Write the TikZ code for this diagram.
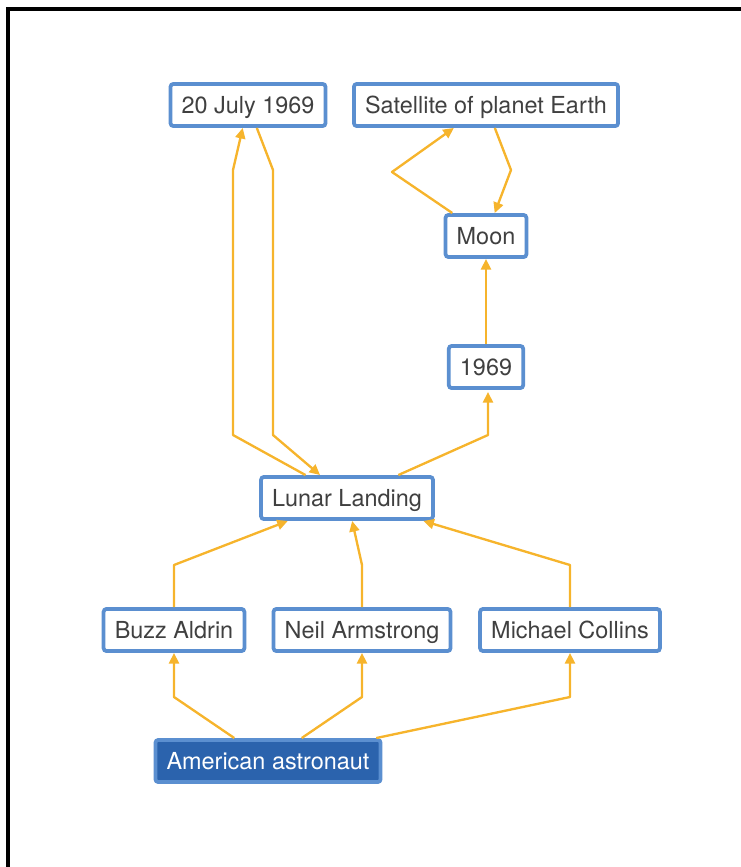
\documentclass[tikz,border=0pt]{standalone}
\usepackage{fontspec}
\setmainfont{TeX Gyre Heros}
\usetikzlibrary{arrows.meta}
\definecolor{linkorange}{HTML}{F6B42C}
\definecolor{boxblue}{HTML}{5B8FD0}
\definecolor{rootblue}{HTML}{2B63AD}
\definecolor{textgray}{HTML}{404040}
\begin{document}
\begin{tikzpicture}[x=0.03cm,y=-0.03cm,
  concept/.style={draw=boxblue,line width=3.2pt,rounded corners=2.5pt,fill=white,text=textgray,
    font=\fontsize{20}{24}\selectfont,inner xsep=9.5pt,inner ysep=0pt,text height=16.5pt,text depth=2.5pt,minimum height=36pt},
  root/.style={concept,fill=rootblue,draw=boxblue,text=white},
  link/.style={-{Triangle[length=9pt,width=8.5pt]},draw=linkorange,line width=2pt,line join=round}]
\useasboundingbox (0,0) rectangle (741,867);
\draw[line width=3pt] (8,867) -- (8,9) -- (741,9);
\node[concept] (date) at (248,105) {20 July 1969};
\node[concept] (sat) at (486,105) {Satellite of planet Earth};
\node[concept] (moon) at (486,236) {Moon};
\node[concept] (year) at (486,367) {1969};
\node[concept] (lunar) at (347,498) {Lunar Landing};
\node[concept] (buzz) at (174,630) {Buzz Aldrin};
\node[concept] (neil) at (362,630) {Neil Armstrong};
\node[concept] (michael) at (570,630) {Michael Collins};
\node[root] (amer) at (268,761) {American astronaut};
\draw[link] (lunar) -- (233,435) -- (233,170) -- (date);
\draw[link] (date) -- (273,170) -- (273,435) -- (lunar);
\draw[link] (lunar) -- (488,435) -- (488,392);
\draw[link] (year) -- (moon);
\draw[link] (moon) -- (392,172) -- (sat);
\draw[link] (sat) -- (511,170) -- (moon);
\draw[link] (buzz) -- (174,565) -- (lunar);
\draw[link] (neil) -- (362,565) -- (lunar);
\draw[link] (michael) -- (570,565) -- (lunar);
\draw[link] (amer) -- (174,697) -- (buzz);
\draw[link] (amer) -- (362,697) -- (neil);
\draw[link] (amer) -- (570,697) -- (michael);
\end{tikzpicture}
\end{document}
